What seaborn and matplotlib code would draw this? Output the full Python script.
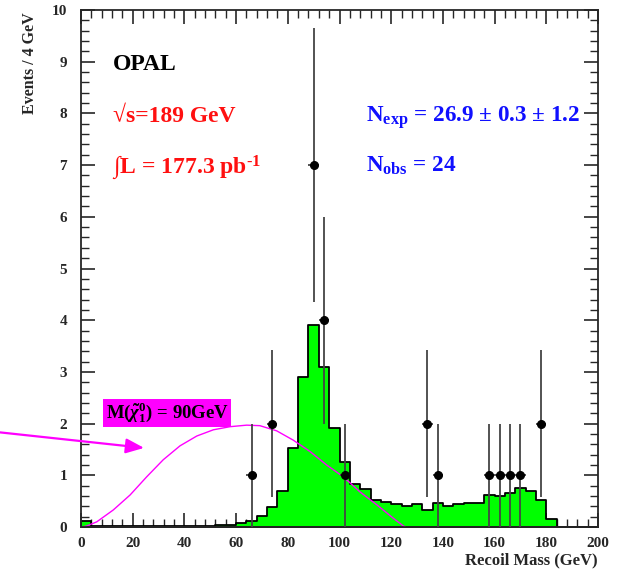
import numpy as np
import matplotlib
matplotlib.use("Agg")
import matplotlib.pyplot as plt
import seaborn as sns

# ---- data ----
bin_edges = list(range(0, 204, 4))
bin_values = [0.12, 0.01, 0.01, 0.01, 0.01, 0.01, 0.01, 0.01, 0.01, 0.01,
              0.01, 0.01, 0.02, 0.03, 0.04, 0.07, 0.12, 0.21, 0.38, 0.70,
              1.52, 2.91, 3.90, 3.10, 1.91, 1.26, 0.83, 0.74, 0.52, 0.49,
              0.44, 0.41, 0.45, 0.32, 0.46, 0.40, 0.44, 0.46, 0.46, 0.61,
              0.59, 0.65, 0.75, 0.70, 0.52, 0.15, 0.0, 0.0, 0.0, 0.0]
data_x = [66, 74, 90, 94, 102, 134, 138, 158, 162, 166, 170, 178]
data_n = [1, 2, 7, 4, 1, 2, 1, 1, 1, 1, 1, 2]
sig_x = [0.5, 2.2, 6.1, 12.5, 19.0, 25.4, 31.8, 38.3, 44.8, 51.2, 57.6, 64.1,
         69.2, 75.7, 82.1, 88.6, 95.0, 101.5, 107.9, 114.4, 120.8, 124.7, 125.5]
sig_y = [0.0, 0.02, 0.10, 0.33, 0.62, 0.97, 1.30, 1.57, 1.76, 1.88, 1.94, 1.97,
         1.96, 1.86, 1.68, 1.46, 1.20, 0.97, 0.68, 0.43, 0.17, 0.02, 0.0]
x_ticks = list(range(0, 201, 20))
y_ticks = list(range(0, 11))

sns.set_style("ticks")
plt.rcParams['font.family'] = ['Liberation Serif', 'DejaVu Serif']
plt.rcParams['font.weight'] = 'bold'
plt.rcParams['mathtext.fontset'] = 'custom'
plt.rcParams['mathtext.rm'] = 'Liberation Serif:bold'
plt.rcParams['mathtext.bf'] = 'Liberation Serif:bold'
plt.rcParams['mathtext.it'] = 'Liberation Serif:italic:bold'

fig = plt.figure(figsize=(6.22, 5.70), dpi=100)
ax = fig.add_axes([81/622, 43/570, 517/622, 517/570])

centers = [e + 2 for e in bin_edges[:-1]]
sns.histplot(x=centers, weights=bin_values, bins=bin_edges, element='step',
             fill=True, color='#00ff00', alpha=1, edgecolor='black',
             linewidth=1.3, ax=ax)

sns.lineplot(x=sig_x, y=sig_y, color='#ff00ff', linewidth=1.0, ax=ax, sort=False)

dn = np.array(data_n, dtype=float)
ax.errorbar(data_x, dn, yerr=np.sqrt(dn), xerr=2, fmt='o', color='black',
            ecolor='#444444', ms=5.5, elinewidth=1.3, capsize=0, zorder=5)

ax.set_xlim(0, 200)
ax.set_ylim(0, 10)
ax.set_xticks(x_ticks)
ax.set_yticks(y_ticks)
ax.xaxis.set_minor_locator(matplotlib.ticker.MultipleLocator(4))
ax.yaxis.set_minor_locator(matplotlib.ticker.MultipleLocator(0.2))
ax.tick_params(which='major', direction='in', top=True, right=True,
               length=10, width=1.2, labelsize=11)
ax.tick_params(which='minor', direction='in', top=True, right=True,
               length=6, width=1.0)
ax.tick_params(axis='x', pad=7)
ax.tick_params(axis='y', pad=10)
for lab in ax.get_xticklabels() + ax.get_yticklabels():
    lab.set_fontweight('bold')
for s in ax.spines.values():
    s.set_linewidth(1.3)
ax.set_xlabel('')
ax.set_ylabel('')

fig.text(30/622, 1 - 12/570, 'Events / 4 GeV', rotation=90, ha='center', va='top',
         fontsize=11.5, fontweight='bold')
fig.text(598/622, 1 - 564/570, 'Recoil Mass (GeV)', ha='right', va='baseline',
         fontsize=12, fontweight='bold')

fs = 17
ax.text(12.3, 8.84, 'OPAL', fontsize=fs, fontweight='bold', color='black', va='baseline')
ax.text(12.3, 7.84, '√s=189 GeV', fontsize=fs, fontweight='bold', color='#ff1010', va='baseline')
ax.text(12.0, 6.85, r'∫L = 177.3 pb$^{\text{-1}}$', fontsize=fs, fontweight='bold',
        color='#ff1010', va='baseline')
ax.text(110.3, 7.83, r'N$_{\mathrm{exp}}$ = 26.9 ± 0.3 ± 1.2', fontsize=16.7, fontweight='bold',
        color='#1010ff', va='baseline')
ax.text(110.3, 6.87, r'N$_{\mathrm{obs}}$ = 24', fontsize=16.7, fontweight='bold',
        color='#1010ff', va='baseline')

ax.text(33.3, 2.21, r'M($\tilde{\chi}_1^0$) = 90GeV', fontsize=13.5, fontweight='bold',
        color='black', ha='center', va='center',
        bbox=dict(facecolor='#ff00ff', edgecolor='none', pad=1.5))

ax.annotate('', xy=(24.4, 1.53), xytext=(-31.3, 1.83), xycoords='data',
            annotation_clip=False,
            arrowprops=dict(arrowstyle='-|>,head_length=1.1,head_width=0.45',
                            color='#ff00ff', lw=1.6, shrinkA=0, shrinkB=0))

fig.savefig('out.png', dpi=100)
